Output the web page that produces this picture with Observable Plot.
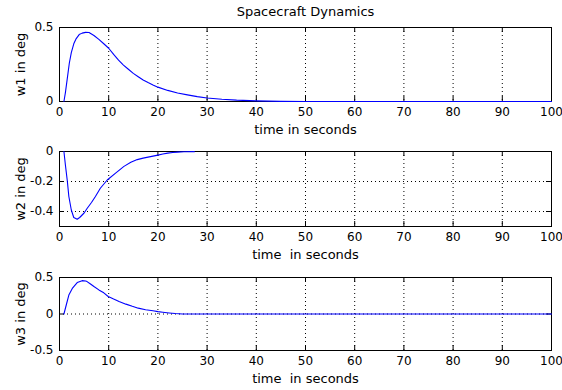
<!DOCTYPE html>
<html>
<head>
<meta charset="utf-8">
<script src="https://cdn.jsdelivr.net/npm/d3@7"></script>
<script src="https://cdn.jsdelivr.net/npm/@observablehq/plot@0.6"></script>
<style>
  body { margin: 0; background: #fff; }
  #chart { position: relative; width: 562px; height: 390px; background: #fff; overflow: hidden; }
  #chart svg { position: absolute; left: 0; }
</style>
</head>
<body>
<div id="chart"></div>
<script>
// Time axis ticks shared by all three panels (seconds)
const xTicks = [0, 10, 20, 30, 40, 50, 60, 70, 80, 90, 100];

// Angular rate w1 (deg) against time (s)
const t1 = [0.9, 1.2, 1.6, 2.0, 2.4, 2.9, 3.4, 4.0, 4.6, 5.3, 6.0, 7.0, 8.0, 9.0, 10, 11, 12, 13, 14, 15, 16, 17, 18, 19, 20, 22, 24, 26, 28, 30, 33, 36, 40, 45, 50, 100];
const w1 = [0, 0.06, 0.16, 0.26, 0.33, 0.39, 0.425, 0.452, 0.462, 0.467, 0.466, 0.446, 0.42, 0.39, 0.36, 0.318, 0.279, 0.246, 0.218, 0.19, 0.167, 0.145, 0.128, 0.112, 0.097, 0.075, 0.058, 0.045, 0.033, 0.024, 0.015, 0.009, 0.004, 0.001, 0, 0];

// Angular rate w2 (deg) against time (s)
const t2 = [0.9, 1.2, 1.6, 1.9, 2.4, 2.9, 3.6, 4.1, 5.0, 5.6, 6.5, 7.3, 8.3, 9.7, 11.4, 13.1, 14.5, 15.8, 17.0, 19.0, 20.0, 21.0, 22.0, 23.0, 24.0, 25.3, 27.4];
const w2 = [0, -0.09, -0.2, -0.3, -0.39, -0.44, -0.452, -0.44, -0.41, -0.38, -0.34, -0.30, -0.245, -0.19, -0.144, -0.099, -0.072, -0.054, -0.044, -0.031, -0.024, -0.017, -0.011, -0.007, -0.004, -0.002, -0.001];

// Angular rate w3 (deg) against time (s)
const t3 = [0.9, 1.4, 1.9, 2.6, 3.6, 4.6, 5.3, 5.6, 6.3, 7.0, 8.0, 9.0, 9.9, 11.0, 12.1, 13.5, 14.8, 16.0, 17.5, 19.0, 20.0, 21.0, 22.3, 23.5, 25.0, 26.0, 100];
const w3 = [0, 0.13, 0.26, 0.35, 0.43, 0.457, 0.452, 0.444, 0.41, 0.376, 0.33, 0.29, 0.24, 0.205, 0.172, 0.135, 0.105, 0.08, 0.058, 0.044, 0.033, 0.024, 0.014, 0.006, 0.001, 0, 0];

// Y tick values per panel
const yTicks1 = [0, 0.5];
const yTicks2 = [-0.4, -0.2, 0];
const yTicks3 = [-0.5, 0, 0.5];

// Texts
const chartTitle = "Spacecraft Dynamics";
const xLabel1 = "time in seconds";
const xLabel23 = "time \u00a0in seconds";
const yLabels = ["w1 in deg", "w2 in deg", "w3 in deg"];

// Layout of the three stacked axes
const W = 562, marginLeft = 59, marginRight = 11;
const innerW = W - marginLeft - marginRight;
const tickLen = 5;

const panels = [
  {t: t1, w: w1, domain: [0, 0.5], ticks: yTicks1, yLabel: yLabels[0], xLabel: xLabel1, title: chartTitle,
   top: 0, marginTop: 27, inner: 74, marginBottom: 37},
  {t: t2, w: w2, domain: [-0.5, 0], ticks: yTicks2, yLabel: yLabels[1], xLabel: xLabel23,
   top: 138, marginTop: 13, inner: 75, marginBottom: 36},
  {t: t3, w: w3, domain: [-0.5, 0.5], ticks: yTicks3, yLabel: yLabels[2], xLabel: xLabel23,
   top: 262, marginTop: 15, inner: 73, marginBottom: 40}
];

const chart = document.getElementById("chart");

for (const p of panels) {
  const data = p.t.map((t, i) => ({t, w: p.w[i]}));
  const xGrid = xTicks.filter(v => v > 0 && v < 100);
  const yGrid = p.ticks.filter(v => v > p.domain[0] && v < p.domain[1]);
  const marks = [
    // dotted grid
    Plot.ruleX(xGrid, {stroke: "#000", strokeDasharray: "1,3"}),
    Plot.ruleY(yGrid, {stroke: "#000", strokeDasharray: "1,3"}),
    Plot.frame({stroke: "#000"}),
    // inward tick marks on all four sides
    Plot.ruleX(xTicks, {stroke: "#000", insetTop: p.inner - tickLen}),
    Plot.ruleX(xTicks, {stroke: "#000", insetBottom: p.inner - tickLen}),
    Plot.ruleY(p.ticks, {stroke: "#000", insetRight: innerW - tickLen}),
    Plot.ruleY(p.ticks, {stroke: "#000", insetLeft: innerW - tickLen}),
    // response curve
    Plot.line(data, {x: "t", y: "w", stroke: "#0000ff", strokeWidth: 1.1}),
    // axis labels
    Plot.text([p.xLabel], {frameAnchor: "bottom", lineAnchor: "bottom", dy: 32, fontSize: 13, fill: "#000"}),
    Plot.text([p.yLabel], {frameAnchor: "left", textAnchor: "middle", lineAnchor: "middle", rotate: -90, dx: -39, fontSize: 13, fill: "#000"})
  ];
  if (p.title) {
    marks.push(Plot.text([p.title], {frameAnchor: "top", lineAnchor: "bottom", dy: -12, fontSize: 13, fill: "#000"}));
  }
  const svg = Plot.plot({
    width: W,
    height: p.marginTop + p.inner + p.marginBottom,
    marginLeft, marginRight,
    marginTop: p.marginTop,
    marginBottom: p.marginBottom,
    style: {fontFamily: "DejaVu Sans", fontSize: "12px", color: "#000", background: "transparent", overflow: "visible"},
    x: {domain: [0, 100], ticks: xTicks, tickSize: 0, tickPadding: 6, tickFormat: d => String(d), label: null},
    y: {domain: p.domain, ticks: p.ticks, tickSize: 0, tickPadding: 6, tickFormat: d => String(d), label: null},
    marks
  });
  svg.style.top = p.top + "px";
  chart.appendChild(svg);
}
</script>
</body>
</html>
